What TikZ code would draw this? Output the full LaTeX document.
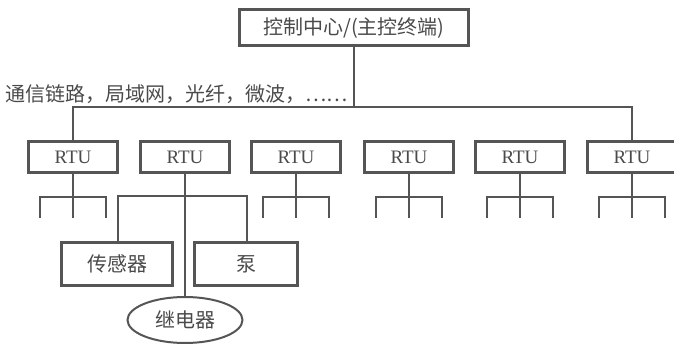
\documentclass[tikz,border=0pt]{standalone}
\usepackage{fontspec}
\setmainfont{Liberation Serif}
\newfontfamily\cjk{Noto Sans CJK SC}
\usetikzlibrary{shapes.geometric}
\definecolor{ink}{HTML}{555555}
\definecolor{txt}{HTML}{4A4A4A}
\begin{document}
\begin{tikzpicture}[x=1pt,y=-1pt,
  every node/.style={text=txt},
  conn/.style={draw=ink,line width=1.4pt},
  rtubox/.style={draw=ink,line width=2.2pt,minimum width=89pt,minimum height=31pt,inner sep=0pt,font=\fontsize{19}{19}\selectfont},
  devbox/.style={draw=ink,line width=2.2pt,minimum width=111pt,minimum height=43pt,inner sep=0pt,font=\cjk\fontsize{20}{20}\selectfont},
  topbox/.style={draw=ink,line width=3pt,minimum width=229pt,minimum height=36pt,inner sep=0pt,font=\cjk\fontsize{20}{20}\selectfont},
  relay/.style={ellipse,draw=ink,line width=2pt,minimum width=115pt,minimum height=46pt,inner sep=0pt,font=\cjk\fontsize{20}{20}\selectfont}]
\useasboundingbox (0,0) rectangle (674,344);
\node[topbox] (top) at (354,28) {控制中心/(主控终端)};
\coordinate (busc) at (354,107);
\node[anchor=east,inner sep=0pt,font=\cjk\fontsize{20}{20}\selectfont] (lbl) at (348,94) {通信链路，局域网，光纤，微波，……};
\foreach \i/\x in {1/73,2/185,3/296,4/409,5/520,6/632}{
  \node[rtubox] (r\i) at (\x,157) {RTU};
  \coordinate (b\i) at (\x,107);
}
\draw[conn] (top.south) -- (busc);
\draw[conn] (r1.north) -- (b1) -- (b6) -- (r6.north);
% branches for RTUs 1,3,4,5,6
\foreach \i/\x in {1/73,3/296,4/409,5/520,6/632}{
  \coordinate (jl\i) at (\x-33,197);
  \coordinate (jr\i) at (\x+33,197);
  \coordinate (el\i) at (\x-33,218);
  \coordinate (ec\i) at (\x,218);
  \coordinate (er\i) at (\x+33,218);
  \draw[conn] (r\i.south) -- (ec\i);
  \draw[conn] (el\i) -- (jl\i) -- (jr\i) -- (er\i);
}
% RTU 2 devices
\node[devbox] (sens) at (117,264) {传感器};
\node[devbox,minimum width=103pt] (pump) at (246,264) {泵};
\node[relay] (rel) at (185,320) {继电器};
\coordinate (j2l) at (118,196);
\coordinate (j2r) at (247,196);
\draw[conn] (r2.south) -- (rel.north);
\draw[conn] (sens.north -| j2l) -- (j2l) -- (j2r) -- (pump.north -| j2r);
\end{tikzpicture}
\end{document}
